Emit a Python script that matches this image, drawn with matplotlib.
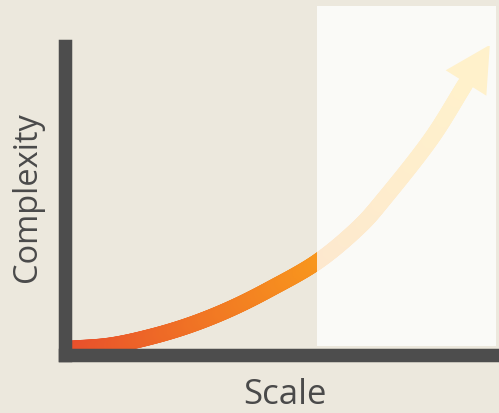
import numpy as np
import matplotlib
matplotlib.use("Agg")
import matplotlib.pyplot as plt
from matplotlib.collections import LineCollection
from matplotlib.colors import LinearSegmentedColormap
from matplotlib.patches import Rectangle, Polygon

# values (origin = corner of the axes, units ~ pixels)
scale = [5, 45, 85, 125, 165, 205, 252, 292, 319, 366, 401]
complexity = [5.8, 9, 17.5, 29.5, 45.5, 65.5, 92.5, 125.5, 155.5, 215.5, 271.5]

x_label = "Scale"
y_label = "Complexity"

# styles
bg_color = "#ece8dd"
axis_color = "#4d4d4d"
text_color = "#4a4a4a"
grad = LinearSegmentedColormap.from_list(
    "heat", [(0.0, "#e84e2c"), (0.6, "#f7921e"), (1.0, "#ffbf10")])
W, H = 499, 414
DPI = 100
px = 72 / DPI  # one pixel in points


def catmull_rom(xs, ys, n=30):
    pts = np.column_stack([xs, ys]).astype(float)
    pts = np.vstack([2 * pts[0] - pts[1], pts, 2 * pts[-1] - pts[-2]])
    out = []
    for i in range(1, len(pts) - 2):
        p0, p1, p2, p3 = pts[i - 1], pts[i], pts[i + 1], pts[i + 2]
        t = np.linspace(0, 1, n, endpoint=False)[:, None]
        out.append(0.5 * ((2 * p1) + (-p0 + p2) * t
                          + (2 * p0 - 5 * p1 + 4 * p2 - p3) * t ** 2
                          + (-p0 + 3 * p1 - 3 * p2 + p3) * t ** 3))
    out.append(pts[-2][None, :])
    return np.vstack(out)


fig = plt.figure(figsize=(W / DPI, H / DPI), dpi=DPI, facecolor=bg_color)
# axes corner at pixel (65, 355.5), top at 46.5
ax = fig.add_axes([65 / W, (H - 355.5) / H, 440 / W, 309 / H])
ax.set_xlim(0, 440)
ax.set_ylim(0, 309)
ax.set_facecolor("none")
ax.set_xticks([])
ax.set_yticks([])
for side in ["top", "right"]:
    ax.spines[side].set_visible(False)
for side in ["left", "bottom"]:
    ax.spines[side].set_linewidth(13.5 * px)
    ax.spines[side].set_color(axis_color)
    ax.spines[side].set_capstyle("projecting")
    ax.spines[side].set_zorder(4)

# gradient curve
curve = catmull_rom(scale, complexity)
segs = np.stack([curve[:-1], curve[1:]], axis=1)
frac = (curve[:-1, 0] - curve[0, 0]) / (curve[-1, 0] - curve[0, 0])
lc = LineCollection(segs, colors=grad(frac), linewidths=16 * px,
                    capstyle="round", zorder=3)
ax.add_collection(lc)

# arrow head
end = np.array([scale[-1], complexity[-1]], float)
d = end - np.array([scale[-2], complexity[-2]], float)
d /= np.hypot(*d)
nrm = np.array([-d[1], d[0]])
head_len, head_w = 45, 48
tip = end + d * head_len
head = Polygon([tip, end + nrm * head_w / 2, end - nrm * head_w / 2],
               closed=True, facecolor=grad(1.0), edgecolor="none", zorder=3)
ax.add_patch(head)

# translucent white panel over the right part
ax.add_patch(Rectangle((252, 8.5), 179, 340, facecolor="white", alpha=0.79,
                       edgecolor="none", clip_on=False, zorder=5))

fig.text(285 / W, (H - 404) / H, x_label, ha="center", va="baseline",
         fontsize=25, family="Open Sans", color=text_color)
fig.text(27 / W, 1 - 197 / H, y_label, ha="center", va="center",
         rotation=90, fontsize=23.5, family="Open Sans", color=text_color)

fig.savefig("out.png", dpi=DPI, facecolor=bg_color)
